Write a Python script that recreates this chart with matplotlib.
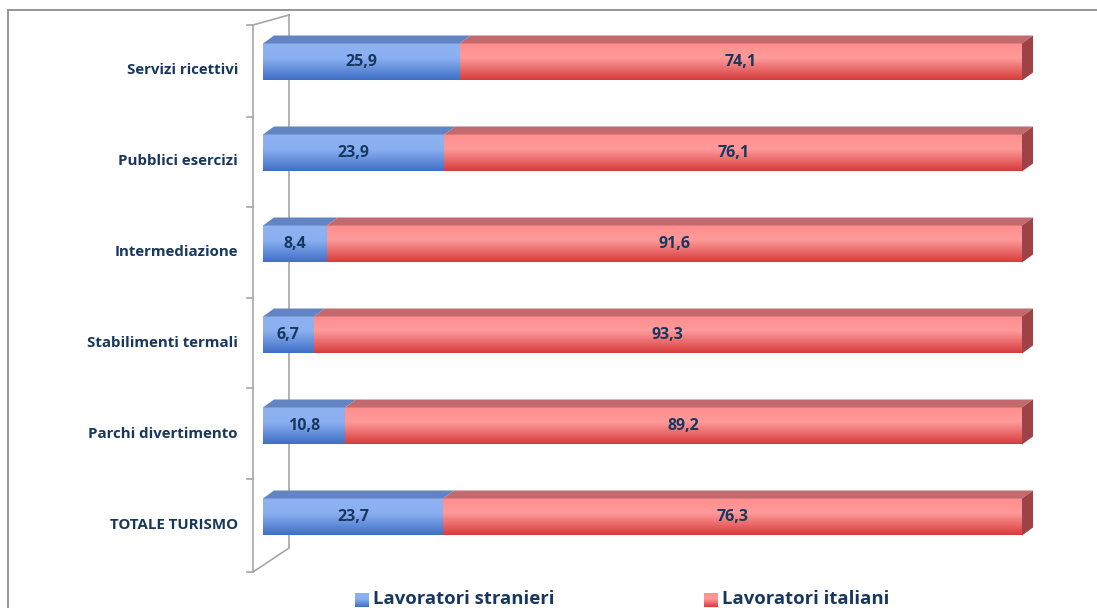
import numpy as np
import matplotlib
matplotlib.use("Agg")
import matplotlib.pyplot as plt
from matplotlib.patches import Polygon
from matplotlib.lines import Line2D
from matplotlib.colors import to_rgb

categories = ["Servizi ricettivi", "Pubblici esercizi", "Intermediazione",
              "Stabilimenti termali", "Parchi divertimento", "TOTALE TURISMO"]
stranieri = [25.9, 23.9, 8.4, 6.7, 10.8, 23.7]
italiani = [74.1, 76.1, 91.6, 93.3, 89.2, 76.3]
series_names = ["Lavoratori stranieri", "Lavoratori italiani"]

W, H = 1097, 608
fig = plt.figure(figsize=(W / 100, H / 100), dpi=100)
fig.patch.set_facecolor("white")

# Pixel geometry of the plotting area
px_x0, px_x1 = 263, 1022
px_top, px_bot = 10, 590
row0, row_step = 62, 91

ax = fig.add_axes([px_x0 / W, 1 - px_bot / H, (px_x1 - px_x0) / W, (px_bot - px_top) / H])
ax.axis("off")

sx = (px_x1 - px_x0) / 100.0  # px per data unit
def X(px):
    return (px - px_x0) / sx
def Y(py):
    return (py - row0) / row_step

navy = "#17375e"
label_font = ["Open Sans", "DejaVu Sans"]

# Left side wall of the 3D frame
wall = dict(color="#a6a6a6", lw=1.2, clip_on=False, zorder=1)
ax.add_line(Line2D([X(253), X(253)], [Y(25), Y(572)], **wall))
ax.add_line(Line2D([X(289), X(289)], [Y(15), Y(548)], **wall))
ax.add_line(Line2D([X(253), X(289)], [Y(572), Y(548)], **wall))
ax.add_line(Line2D([X(253), X(289)], [Y(25), Y(15)], **wall))
for ty in [25, 117, 207, 298, 388, 479, 572]:
    ax.add_line(Line2D([X(247), X(253)], [Y(ty), Y(ty)], **wall))

bar_h = 37 / row_step
dx = 11 / sx
dy = 8 / row_step

def gradient(c_top, c_mid, c_bot, n=64):
    a, b, c = np.array(to_rgb(c_top)), np.array(to_rgb(c_mid)), np.array(to_rgb(c_bot))
    t = np.linspace(0, 1, n)[:, None]
    g = np.where(t < 0.4, a + (b - a) * (t / 0.4), b + (c - b) * ((t - 0.4) / 0.6))
    return g[:, None, :]

blue_grad = gradient("#8fb2f0", "#8bb0f2", "#3f6fc6")
red_grad = gradient("#ff8e8e", "#ff9a9a", "#d63c3c")
blue_top = "#6384c2"
red_top = "#c26a6e"

for i in range(len(categories)):
    yt, yb = i - bar_h / 2, i + bar_h / 2
    segs = [(0, stranieri[i], blue_grad, blue_top),
            (stranieri[i], stranieri[i] + italiani[i], red_grad, red_top)]
    for x0, x1, grad, topc in segs:
        ax.imshow(grad, extent=(x0, x1, yb, yt), aspect="auto", origin="upper",
                  interpolation="bilinear", zorder=3)
        ax.add_patch(Polygon([(x0, yt), (x0 + dx, yt - dy), (x1 + dx, yt - dy), (x1, yt)],
                             closed=True, facecolor=topc, edgecolor="none",
                             zorder=3, clip_on=False))
    xe = stranieri[i] + italiani[i]
    ax.add_patch(Polygon([(xe, yt), (xe + dx, yt - dy), (xe + dx, yb - dy), (xe, yb)],
                         closed=True, facecolor="#9e4248", edgecolor="none",
                         zorder=3, clip_on=False))
    # value labels
    ax.text(stranieri[i] / 2, i, f"{stranieri[i]:.1f}".replace(".", ","),
            ha="center", va="center", fontsize=11.5, fontweight="bold",
            color=navy, family=label_font, zorder=5)
    ax.text(stranieri[i] + italiani[i] / 2, i, f"{italiani[i]:.1f}".replace(".", ","),
            ha="center", va="center", fontsize=11.5, fontweight="bold",
            color=navy, family=label_font, zorder=5)
    # category labels
    ax.text(X(238), i + 8 / row_step, categories[i], ha="right", va="center",
            fontsize=10.8, fontweight="bold", color=navy, family=label_font,
            clip_on=False)

ax.set_xlim(0, 100)
ax.set_ylim((px_bot - row0) / row_step, (px_top - row0) / row_step)

# Outer frame (top and left edges)
fig.add_artist(Line2D([8 / W, 1], [1 - 9.5 / H, 1 - 9.5 / H], transform=fig.transFigure,
                      color="#8c8c8c", lw=1.3))
fig.add_artist(Line2D([8 / W, 8 / W], [0, 1 - 9.5 / H], transform=fig.transFigure,
                      color="#8c8c8c", lw=1.3))

# Legend
legend_items = [(355, series_names[0], blue_grad), (704, series_names[1], red_grad)]
for lx, name, grad in legend_items:
    lax = fig.add_axes([lx / W, 1 - 607 / H, 14 / W, 14 / H])
    lax.imshow(grad, aspect="auto", extent=(0, 1, 0, 1))
    lax.axis("off")
    fig.text((lx + 18) / W, 1 - 599 / H, name, ha="left", va="center", fontsize=13.3,
             fontweight="bold", color=navy, family=label_font)

fig.savefig("out.png", dpi=100, facecolor="white")
